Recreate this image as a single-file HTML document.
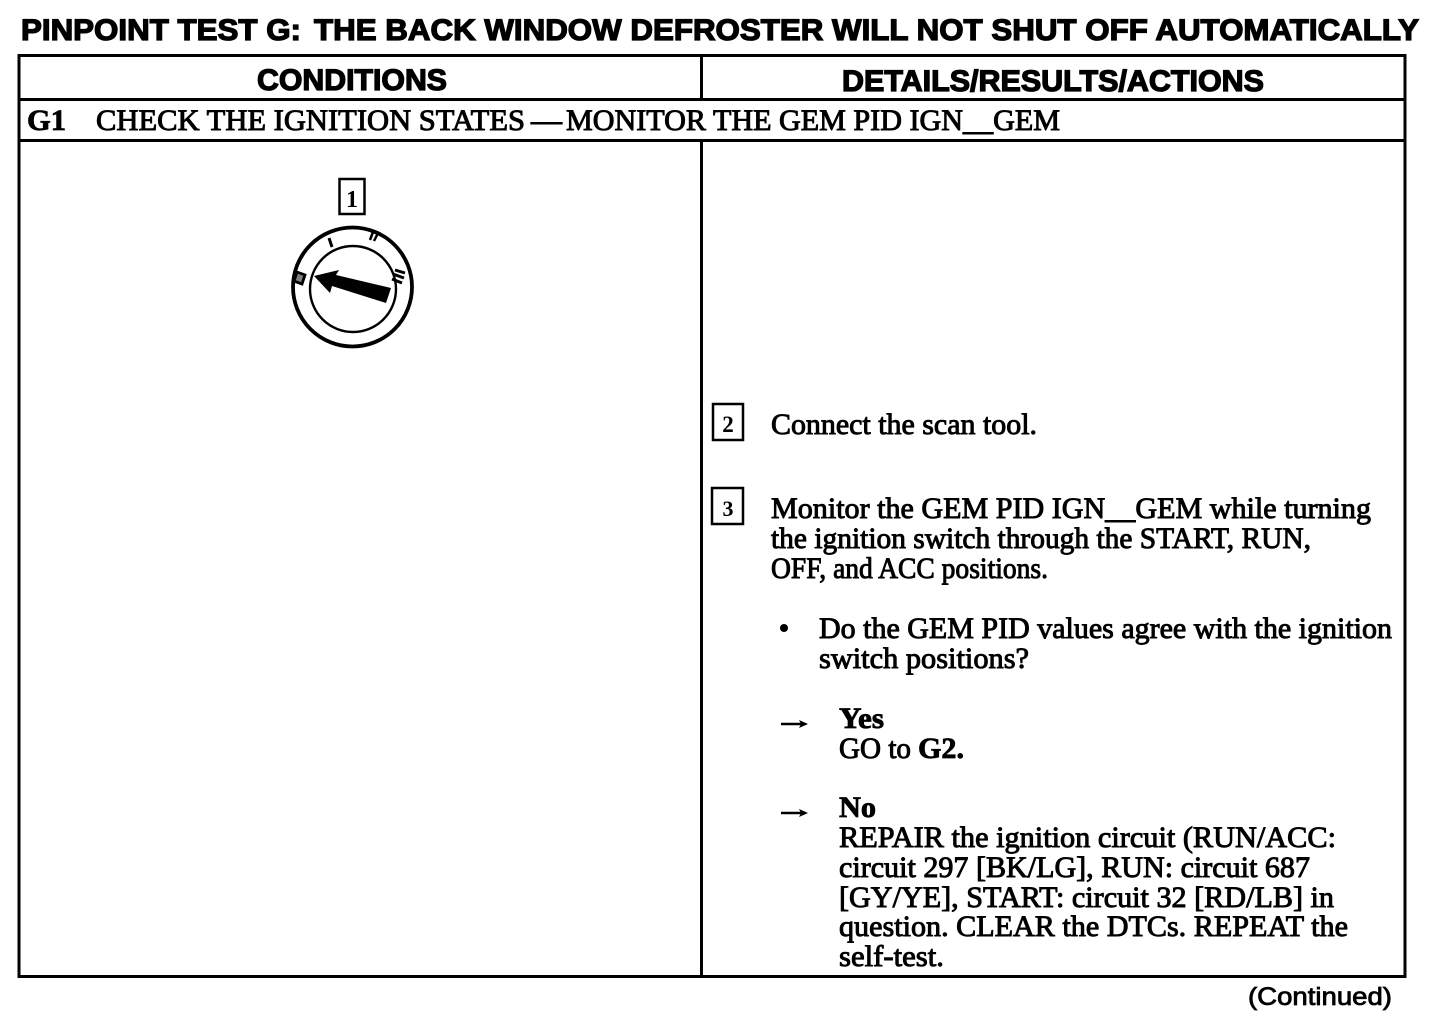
<!DOCTYPE html>
<html><head><meta charset="utf-8"><style>
html,body{margin:0;padding:0;background:#fff}
svg{display:block}
.t{font-family:"Liberation Serif",serif;font-size:30px;fill:#000;stroke:#000;stroke-width:.95px}
.b{font-family:"Liberation Serif",serif;font-size:30px;font-weight:bold;fill:#000;stroke:#000;stroke-width:.8px}
.h{font-family:"Liberation Sans",sans-serif;font-weight:bold;fill:#000;stroke:#000;stroke-width:1.3px}
.n{font-family:"Liberation Serif",serif;font-weight:bold;fill:#000;text-anchor:middle}
</style></head><body>
<svg width="1456" height="1020" viewBox="0 0 1456 1020" xmlns="http://www.w3.org/2000/svg">
<rect width="1456" height="1020" fill="#fff"/>
<text class="h" x="21" y="40" font-size="30" textLength="280" lengthAdjust="spacingAndGlyphs">PINPOINT TEST G:</text>
<text class="h" x="314" y="40" font-size="30" textLength="1105" lengthAdjust="spacingAndGlyphs">THE BACK WINDOW DEFROSTER WILL NOT SHUT OFF AUTOMATICALLY</text>
<g stroke="#000" fill="none">
<rect x="19" y="55.500" width="1386" height="921" stroke-width="3"/>
<path d="M19 99.500H1405M19 140.500H1405" stroke-width="3"/>
<path d="M701.500 55V99M701.500 140V976" stroke-width="3"/>
</g>
<text class="h" x="257" y="90" font-size="30" textLength="190" lengthAdjust="spacingAndGlyphs">CONDITIONS</text>
<text class="h" x="842" y="91" font-size="30" textLength="422" lengthAdjust="spacingAndGlyphs">DETAILS/RESULTS/ACTIONS</text>
<text class="b" x="27" y="130" textLength="39" lengthAdjust="spacingAndGlyphs">G1</text>
<text class="t" x="96" y="130" textLength="429" lengthAdjust="spacingAndGlyphs">CHECK THE IGNITION STATES</text>
<text class="t" x="531" y="130" textLength="31" lengthAdjust="spacingAndGlyphs">—</text>
<text class="t" x="566" y="130" textLength="494" lengthAdjust="spacingAndGlyphs">MONITOR THE GEM PID IGN__GEM</text>

<rect x="339.500" y="179" width="25" height="35" fill="none" stroke="#000" stroke-width="2.500"/>
<text class="n" x="352" y="207" font-size="24">1</text>
<circle cx="352.500" cy="287" r="59.500" fill="none" stroke="#000" stroke-width="3.800"/>
<circle cx="353" cy="289" r="43" fill="none" stroke="#000" stroke-width="2.400"/>
<path d="M314 276L339 270L336 275L391 288L386 303L332 286L330 293Z" fill="#000"/>
<path d="M329 238L332 247" stroke="#000" stroke-width="3" fill="none"/>
<path d="M370 240L373 232M374 241L378 233" stroke="#000" stroke-width="2.500" fill="none"/>
<path d="M297 272L305 275L302 284L294 281Z" fill="#000" fill-opacity=".5" stroke="#000" stroke-width="2.800"/>
<path d="M395 270L405 273M393 274L404 278M392 279L402 283" stroke="#000" stroke-width="3" fill="none"/>

<rect x="713" y="404" width="30" height="36" fill="none" stroke="#000" stroke-width="2.500"/>
<text class="n" x="728" y="432" font-size="23">2</text>
<rect x="712" y="488" width="31" height="36" fill="none" stroke="#000" stroke-width="2.500"/>
<text class="n" x="728" y="516" font-size="22">3</text>

<text class="t" x="771" y="434" textLength="266" lengthAdjust="spacingAndGlyphs">Connect the scan tool.</text>
<text class="t" x="771" y="518" textLength="600" lengthAdjust="spacingAndGlyphs">Monitor the GEM PID IGN__GEM while turning</text>
<text class="t" x="771" y="548" textLength="540" lengthAdjust="spacingAndGlyphs">the ignition switch through the START, RUN,</text>
<text class="t" x="771" y="578" textLength="277" lengthAdjust="spacingAndGlyphs">OFF, and ACC positions.</text>
<circle cx="784" cy="628" r="4" fill="#000"/>
<text class="t" x="819" y="638" textLength="573" lengthAdjust="spacingAndGlyphs">Do the GEM PID values agree with the ignition</text>
<text class="t" x="819" y="668" textLength="210" lengthAdjust="spacingAndGlyphs">switch positions?</text>

<path d="M781 724H802" stroke="#000" stroke-width="2.500"/><path d="M799 720L808 724L799 728L801 724Z" fill="#000"/>
<text class="b" x="839" y="728" textLength="45" lengthAdjust="spacingAndGlyphs">Yes</text>
<text class="t" x="839" y="758" textLength="72" lengthAdjust="spacingAndGlyphs">GO to</text>
<text class="b" x="918" y="758" textLength="46" lengthAdjust="spacingAndGlyphs">G2.</text>

<path d="M781 813H802" stroke="#000" stroke-width="2.500"/><path d="M799 809L808 813L799 817L801 813Z" fill="#000"/>
<text class="b" x="839" y="817" textLength="37" lengthAdjust="spacingAndGlyphs">No</text>
<text class="t" x="839" y="847" textLength="497" lengthAdjust="spacingAndGlyphs">REPAIR the ignition circuit (RUN/ACC:</text>
<text class="t" x="839" y="877" textLength="471" lengthAdjust="spacingAndGlyphs">circuit 297 [BK/LG], RUN: circuit 687</text>
<text class="t" x="839" y="907" textLength="495" lengthAdjust="spacingAndGlyphs">[GY/YE], START: circuit 32 [RD/LB] in</text>
<text class="t" x="839" y="936" textLength="509" lengthAdjust="spacingAndGlyphs">question. CLEAR the DTCs. REPEAT the</text>
<text class="t" x="839" y="966" textLength="105" lengthAdjust="spacingAndGlyphs">self-test.</text>

<text x="1248" y="1005" font-family="Liberation Sans,sans-serif" font-size="25" stroke="#000" stroke-width=".8" textLength="144" lengthAdjust="spacingAndGlyphs">(Continued)</text>
</svg>
</body></html>
